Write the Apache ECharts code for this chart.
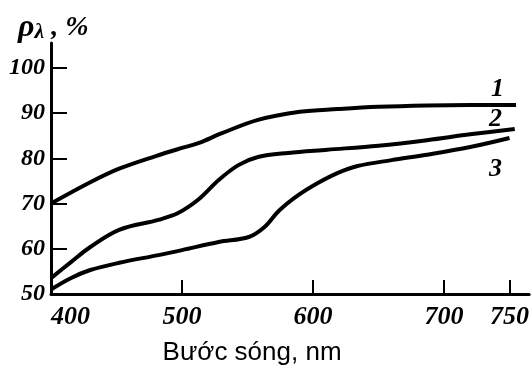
<!DOCTYPE html>
<html>
<head>
<meta charset="utf-8">
<script src="https://cdn.jsdelivr.net/npm/echarts@6/dist/echarts.min.js"></script>
<style>
  html, body { margin: 0; padding: 0; background: #fff; }
  #chart { width: 532px; height: 376px; }
</style>
</head>
<body>
<div id="chart"></div>
<script>
// Spectral reflectance curves, wavelength (nm) vs reflectance (%)
const curve1 = [[400,70],[430,74.7],[452,77.7],[480,80.5],[500,82.3],[513,83.4],[530,85.5],[558,88.5],[590,90.3],[619,90.9],[650,91.4],[687,91.7],[720,91.8],[755,91.8]];
const curve2 = [[400,53.5],[415,57],[430,60.4],[452,64.2],[482,66.4],[497,67.9],[513,71],[528,75.2],[543,78.5],[558,80.3],[581,81.2],[611,81.9],[650,82.8],[687,84],[720,85.3],[754,86.5]];
const curve3 = [[400,51],[415,53.5],[430,55.3],[452,56.9],[482,58.6],[500,59.7],[528,61.5],[551,62.6],[563,64.8],[574,68.4],[589,71.9],[604,74.6],[619,76.8],[634,78.3],[660,79.6],[687,80.8],[720,82.5],[750,84.5]];
const curveNames = ['1', '2', '3'];
const xTicks = [400, 500, 600, 700, 750];
const yTicks = [50, 60, 70, 80, 90, 100];

const numFont = {
  fontFamily: "'Liberation Serif', serif",
  fontStyle: 'italic',
  fontWeight: 'bold',
  fontSize: 24,
  color: '#000'
};

const chart = echarts.init(document.getElementById('chart'), null, { renderer: 'canvas' });

const lineStyle = { color: '#000', width: 4 };

chart.setOption({
  backgroundColor: '#fff',
  animation: false,
  grid: { left: 51, right: 0, top: 43, bottom: 82, containLabel: false },
  xAxis: {
    type: 'value',
    min: 400,
    max: 765,
    axisLine: { show: true, lineStyle: { color: '#000', width: 3 } },
    axisTick: { show: true, inside: true, length: 14, customValues: xTicks.slice(1), lineStyle: { color: '#000', width: 2 } },
    axisLabel: Object.assign({ customValues: xTicks, margin: 10, alignMinLabel: 'left' }, numFont, { fontSize: 26 }),
    splitLine: { show: false },
    name: 'Bước sóng, nm',
    nameLocation: 'middle',
    nameGap: 46,
    nameTextStyle: { fontFamily: "'Liberation Sans', Arial, sans-serif", fontSize: 26, color: '#000', padding: [0, 76, 0, 0] }
  },
  yAxis: {
    type: 'value',
    min: 50,
    max: 105.5,
    axisLine: { show: true, lineStyle: { color: '#000', width: 3 } },
    axisTick: { show: true, inside: true, length: 16, customValues: yTicks.slice(1), lineStyle: { color: '#000', width: 2 } },
    axisLabel: Object.assign({ customValues: yTicks, margin: 6 }, numFont),
    splitLine: { show: false }
  },
  series: [curve1, curve2, curve3].map((d, i) => ({
    name: curveNames[i],
    type: 'line',
    data: d,
    smooth: 0.35,
    symbol: 'none',
    lineStyle: lineStyle
  })),
  graphic: [
    {
      type: 'text', left: 18, top: 12,
      style: {
        text: '{r|ρ}{l|λ}{c| , %}',
        rich: {
          r: Object.assign({}, numFont, { fontSize: 32 }),
          l: Object.assign({}, numFont, { fontSize: 22, padding: [8, 0, 0, 0] }),
          c: Object.assign({}, numFont, { fontSize: 28 })
        }
      }
    },
    { type: 'text', left: 491, top: 76, style: Object.assign({ text: curveNames[0] }, numFont, { fontSize: 26 }) },
    { type: 'text', left: 489, top: 106, style: Object.assign({ text: curveNames[1] }, numFont, { fontSize: 26 }) },
    { type: 'text', left: 489, top: 156, style: Object.assign({ text: curveNames[2] }, numFont, { fontSize: 26 }) }
  ]
});
</script>
</body>
</html>
